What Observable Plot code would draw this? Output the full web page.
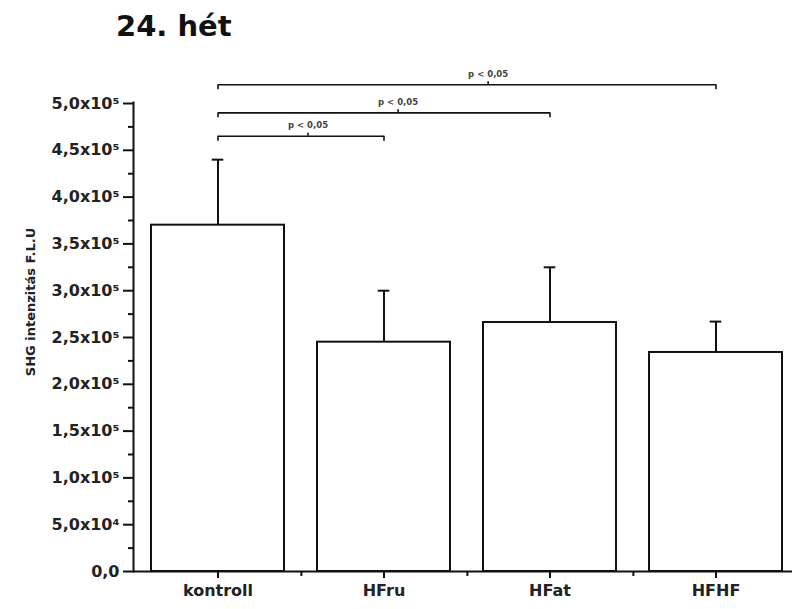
<!DOCTYPE html>
<html><head><meta charset="utf-8">
<script src="https://cdn.jsdelivr.net/npm/d3@7"></script>
<script src="https://cdn.jsdelivr.net/npm/@observablehq/plot@0.6"></script>
<style>
html,body{margin:0;padding:0;background:#fff;}
#wrap{position:relative;width:792px;height:609px;overflow:hidden;}
#title{position:absolute;left:116px;top:12px;font-family:"DejaVu Sans";font-weight:bold;font-size:29px;line-height:29px;color:#111;white-space:nowrap;z-index:2;}
#chart{position:absolute;left:0;top:0;}
</style></head><body>
<div id="wrap"><div id="title"></div><div id="chart"></div></div>
<script>
const title = "24. hét";
const yLabel = "SHG intenzitás F.L.U";
const categories = ["kontroll", "HFru", "HFat", "HFHF"];
const means = [370000, 245000, 266000, 234000];
const errors = [70000, 55000, 59000, 33000];
const majorTicks = [0, 50000, 100000, 150000, 200000, 250000, 300000, 350000, 400000, 450000, 500000];
const tickLabels = ["0,0", "5,0x10⁴", "1,0x10⁵", "1,5x10⁵", "2,0x10⁵", "2,5x10⁵", "3,0x10⁵", "3,5x10⁵", "4,0x10⁵", "4,5x10⁵", "5,0x10⁵"];
const minorTicks = [25000, 75000, 125000, 175000, 225000, 275000, 325000, 375000, 425000, 475000];
const sigFrom = ["kontroll", "kontroll", "kontroll"];
const sigTo = ["HFru", "HFat", "HFHF"];
const sigY = [465000, 490000, 520000];
const sigLabels = ["p < 0,05", "p < 0,05", "p < 0,05"];

document.getElementById("title").textContent = title;

const data = categories.map((c, i) => ({cat: c, mean: means[i], upper: means[i] + errors[i]}));
const sig = sigFrom.map((f, i) => ({from: f, to: sigTo[i], y: sigY[i], label: sigLabels[i],
  k: categories.indexOf(sigTo[i]) - categories.indexOf(f)}));
const ends = sig.flatMap(s => [{c: s.from, y: s.y}, {c: s.to, y: s.y}]);

const xRange = [133, 800];
const step = (xRange[1] - xRange[0]) / categories.length;
const bw = step * 0.8;
const FONT = "DejaVu Sans";
const INK = "#111";

const chart = Plot.plot({
  width: 792,
  height: 609,
  marginLeft: 133,
  marginTop: 102,
  marginBottom: 38,
  marginRight: 0,
  style: {fontFamily: FONT, background: "white", overflow: "visible"},
  x: {domain: categories, range: xRange, paddingInner: 0.2, paddingOuter: 0.1},
  y: {domain: [0, 500000], range: [571, 103]},
  marks: [
    Plot.barY(data, {x: "cat", y: "mean", fill: "white", stroke: INK, strokeWidth: 2}),
    Plot.ruleX(data, {x: "cat", y1: "mean", y2: "upper", stroke: INK, strokeWidth: 2}),
    Plot.tickY(data, {x: "cat", y: "upper", inset: (bw - 12) / 2, stroke: INK, strokeWidth: 2}),
    Plot.ruleY([0], {stroke: INK, strokeWidth: 2}),
    Plot.frame({anchor: "left", stroke: INK, strokeWidth: 2}),
    Plot.axisY({ticks: minorTicks, tickSize: 5, tickFormat: () => "", label: null, stroke: INK, strokeWidth: 2}),
    Plot.axisY({ticks: majorTicks, tickSize: 10, tickPadding: 4, label: null,
      tickFormat: v => tickLabels[majorTicks.indexOf(v)],
      fontSize: 16, fontWeight: "bold", fontFamily: FONT, fill: "#222", stroke: INK, strokeWidth: 2}),
    Plot.axisX({tickSize: 7, tickPadding: 6, label: null, fontSize: 16, fontWeight: "bold",
      fontFamily: FONT, fill: "#222", stroke: INK, strokeWidth: 2}),
    Plot.ruleX(categories.slice(0, -1), {x: d => d, y1: 0, y2: 0, dx: step / 2, insetBottom: -5, stroke: INK, strokeWidth: 2}),
    Plot.link(sig, {x1: "from", x2: "to", y1: "y", y2: "y", stroke: INK, strokeWidth: 1.6}),
    Plot.ruleX(ends, {x: "c", y1: "y", y2: "y", insetBottom: -5, stroke: INK, strokeWidth: 1.6}),
    ...sig.map(s => Plot.ruleX([s], {x: "from", y1: "y", y2: "y", dx: 0.54 * s.k * step, insetTop: -3, stroke: INK, strokeWidth: 1.6})),
    ...sig.map(s => Plot.text([s], {x: "from", y: "y", text: "label", dx: 0.54 * s.k * step, dy: -11,
      fontSize: 8.5, fontWeight: "bold", fontFamily: FONT, fill: "#444"})),
    Plot.text([yLabel], {text: d => d, frameAnchor: "left", textAnchor: "middle", rotate: -90, dx: -103, dy: -35,
      fontSize: 13, fontWeight: "bold", fontFamily: FONT, fill: "#222"})
  ]
});
document.getElementById("chart").appendChild(chart);
</script>
</body></html>
